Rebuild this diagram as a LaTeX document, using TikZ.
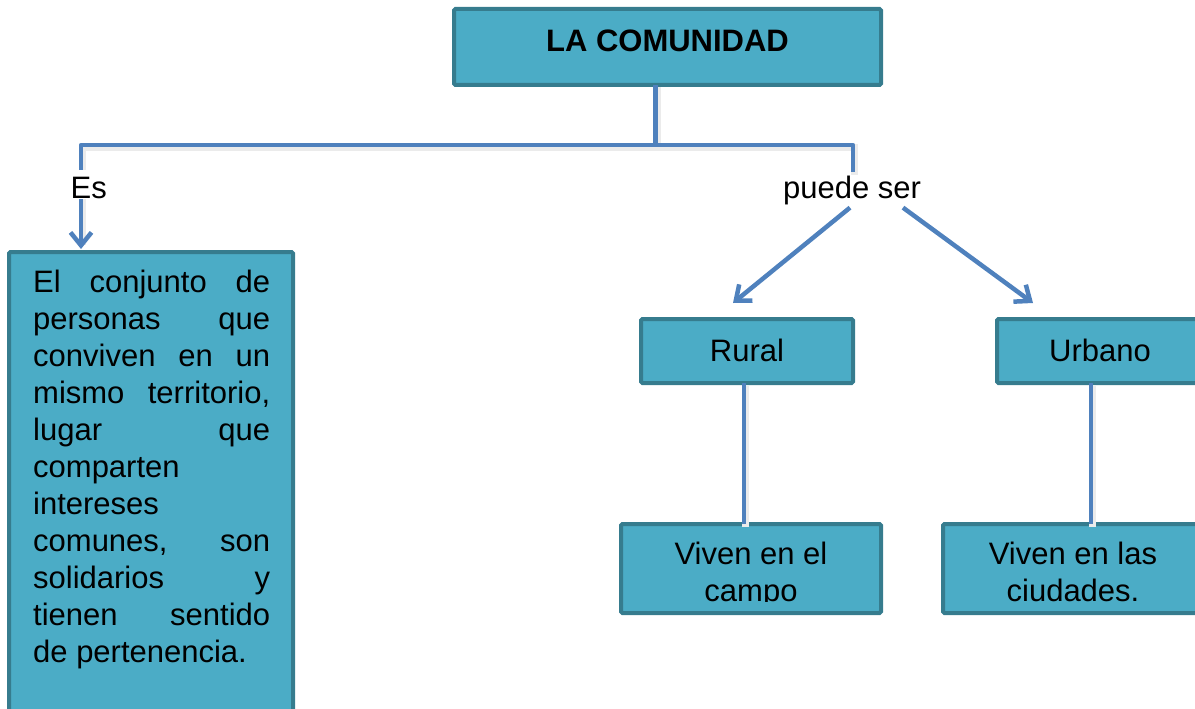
\documentclass[tikz,border=0pt]{standalone}
\usepackage{fontspec}
\setmainfont{Liberation Sans}
\usetikzlibrary{arrows.meta,calc}
\definecolor{boxfill}{RGB}{75,172,198}
\definecolor{boxline}{RGB}{54,124,142}
\definecolor{connblue}{RGB}{79,129,189}
\begin{document}
\begin{tikzpicture}[x=1pt,y=-1pt,
  box/.style={draw=boxline, fill=boxfill, line width=4pt, rounded corners=1.5pt, inner sep=0pt, outer sep=0pt},
  txt/.style={inner sep=0pt, font=\fontsize{31}{37}\selectfont},
  shadowed/.style={preaction={draw=black!8, line width=7pt, transform canvas={shift={(1.5pt,-2.5pt)}}}},
  conn/.style={draw=connblue, line width=4.5pt},
  arr/.style={conn, -{Straight Barb[length=13pt,width=21pt]}},
]
\path[use as bounding box] (0,0) rectangle (1195,709);
\clip (0,0) rectangle (1195,709);

% boxes
\node[box, minimum width=427pt, minimum height=76pt, text height=22pt, text depth=12pt,
      font=\fontsize{31}{37}\selectfont\bfseries] (top) at (667.5,47) {LA COMUNIDAD};
\node[box, minimum width=284pt, minimum height=478pt] (def) at (151,491) {};
\node[box, minimum width=212pt, minimum height=64pt, text height=22pt, text depth=2pt, txt] (rural) at (747,351) {Rural};
\node[box, minimum width=206pt, minimum height=64pt, text height=22pt, text depth=2pt, txt] (urbano) at (1100,351) {Urbano};
\node[box, minimum width=260pt, minimum height=89pt] (campo) at (751,568.5) {};
\node[box, minimum width=260pt, minimum height=89pt] (ciudad) at (1073,568.5) {};

% texts inside boxes
\node[txt, anchor=base west] (deftext) at (33,292.5) {\parbox[t]{237pt}{\fontsize{31}{37}\selectfont\setlength{\parindent}{0pt}%
\makebox[\linewidth][s]{El conjunto de}\\
\makebox[\linewidth][s]{personas que}\\
\makebox[\linewidth][s]{conviven en un}\\
\makebox[\linewidth][s]{mismo territorio,}\\
\makebox[\linewidth][s]{lugar que}\\
comparten\\
intereses\\
\makebox[\linewidth][s]{comunes, son}\\
\makebox[\linewidth][s]{solidarios y}\\
\makebox[\linewidth][s]{tienen sentido}\\
de pertenencia.}};
\node[txt, anchor=base] (campoA) at (751,564) {Viven en el};
\node[txt, anchor=base] (ciudadA) at (1073,564) {Viven en las};
\begin{scope}
  \clip (600,560) rectangle (1195,601.5);
  \node[txt, anchor=base] (campoB) at (751,601) {campo};
  \node[txt, anchor=base] (ciudadB) at (1073,601) {ciudades.};
\end{scope}

% connectors
\coordinate (jL) at (81,145);
\coordinate (jM) at (655.5,145);
\coordinate (jR) at (853,145);
\node[txt, anchor=base, inner sep=3pt] (puede) at (852,198) {puede ser};

\draw[conn, shadowed] ($(top.south)+(-12,0)$) -- (jM);
\draw[conn, shadowed, line join=round] (jL |- def.north) ++(0,-10) -- (jL) -- (jR) -- (puede.north -| jR);
\draw[arr] (jL) -- ($(jL |- def.north)+(0,-3)$);
\node[txt, anchor=base west, fill=white, inner xsep=0.5pt, inner ysep=0.5pt, text height=28pt, text depth=0pt] (es) at (70,198) {Es};

\draw[arr] ($(puede.south)+(-2,0)$) -- ($(rural.north)+(-14,-16)$);
\draw[arr] ($(puede.south)+(51,0)$) -- ($(urbano.north)+(-67,-16)$);

\draw[conn, shadowed] ($(rural.south)+(-3,0)$) -- ($(rural.south |- campo.north)+(-3,0)$);
\draw[conn, shadowed] ($(urbano.south)+(-9,0)$) -- ($(urbano.south |- ciudad.north)+(-9,0)$);
\end{tikzpicture}
\end{document}
